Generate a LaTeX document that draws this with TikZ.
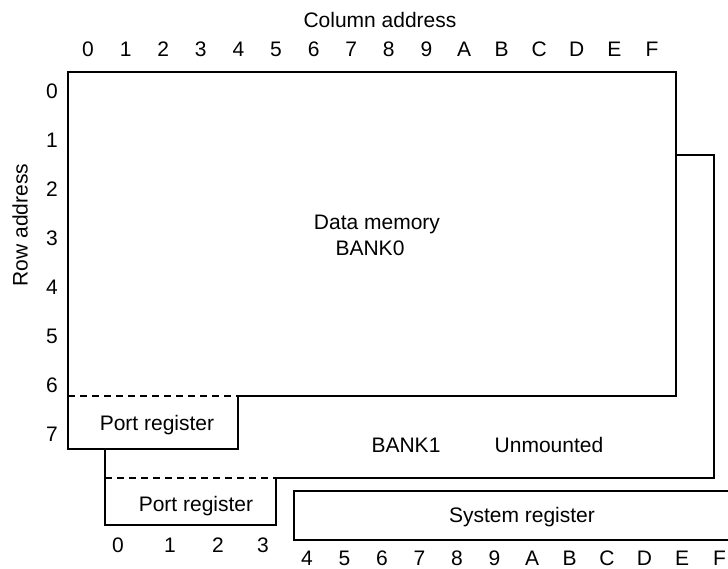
\documentclass[tikz,border=0pt]{standalone}
\usepackage{fontspec}
\setmainfont{Liberation Sans}
\begin{document}
\begin{tikzpicture}[x=1pt,y=-1pt,line width=2.5pt,
  lbl/.style={font=\fontsize{21}{24}\selectfont, inner sep=0pt, text height=15pt, text depth=0pt},
  dashline/.style={dash pattern=on 7pt off 5pt}]
\useasboundingbox (0,0) rectangle (728,569);
% Data memory BANK0 outline
\draw[line join=miter] (238,396) -- (676,396) -- (676,72) -- (68,72) -- (68,449) -- (238,449) -- cycle;
\draw[dashline] (68,396) -- (238,396);
% BANK1 outline
\draw[line join=miter] (676,155) -- (714,155) -- (714,478) -- (276,478) -- (276,525) -- (105,525) -- (105,449);
\draw[dashline] (105,478) -- (276,478);
% System register
\draw[line join=miter] (728,491) -- (294,491) -- (294,540) -- (728,540);
% texts
\node[lbl] (coladdr) at (380,20) {Column address};
\foreach \c [count=\i from 0] in {0,1,2,3,4,5,6,7,8,9,A,B,C,D,E,F}
  \node[lbl] (col\i) at ({88+37.6*\i},49) {\c};
\foreach \r in {0,...,7}
  \node[lbl] (row\r) at (52,{91+49*\r}) {\r};
\node[lbl,rotate=90] (rowaddr) at (20,225) {Row address};
\node[lbl] (dm) at (377,222) {Data memory};
\node[lbl] (bank0) at (370,248) {BANK0};
\node[lbl] (port1) at (157,423) {Port register};
\node[lbl] (port2) at (196,504) {Port register};
\node[lbl] (bank1) at (406,445) {BANK1};
\node[lbl] (unm) at (549,445) {Unmounted};
\node[lbl] (sysreg) at (522,515) {System register};
\foreach \c/\x [count=\i from 0] in {0/118,1/170,2/218,3/263}
  \node[lbl] (pb\i) at (\x,545) {\c};
\foreach \c [count=\i from 4] in {4,5,6,7,8,9,A,B,C,D,E,F}
  \node[lbl] (sb\i) at ({307+37.5*(\i-4)},558) {\c};
\end{tikzpicture}
\end{document}
